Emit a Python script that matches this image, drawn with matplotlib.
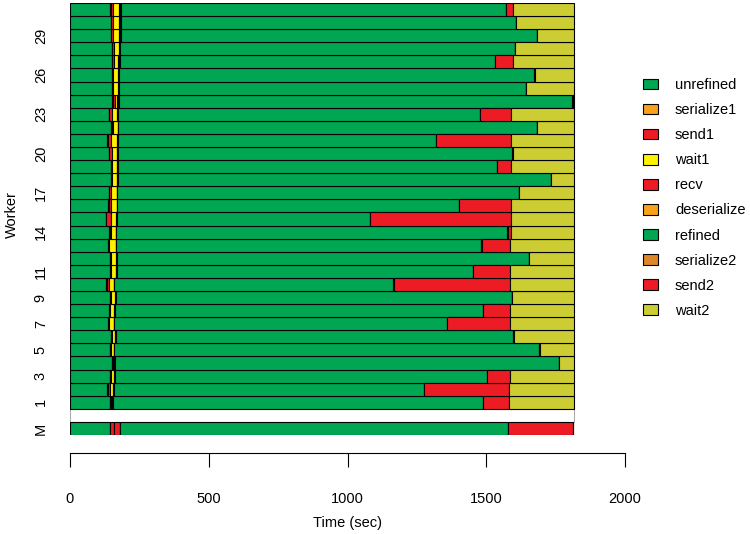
import matplotlib
matplotlib.use('Agg')
import matplotlib.pyplot as plt
from matplotlib.patches import Patch
import numpy as np

plt.rcParams['font.family'] = ['Liberation Sans', 'DejaVu Sans']

# phases of each worker, in stacking order
phases = ['unrefined', 'serialize1', 'send1', 'wait1', 'recv',
          'deserialize', 'refined', 'serialize2', 'send2', 'wait2']
colors = ['#00a651', '#f9a11b', '#ed1c24', '#fff200', '#ed1c24',
          '#f9a11b', '#00a651', '#de8628', '#ed1c24', '#cccc33']

workers = list(range(1, 32))

# durations (sec) for workers 1..31
unrefined = [144, 134, 144, 150, 144, 146, 138, 142, 144, 130, 144, 144, 138, 142, 128, 138,
             140, 146, 146, 140, 135, 148, 140, 152, 150, 150, 150, 150, 146, 146, 144]
serialize1 = [1, 2, 1, 2, 1, 2, 2, 1, 1, 2, 2, 1, 2, 2, 2, 2,
              2, 2, 2, 2, 2, 2, 2, 3, 2, 2, 2, 2, 2, 2, 2]
send1 = [2, 8, 2, 4, 2, 4, 2, 2, 2, 10, 2, 2, 2, 2, 17, 8,
         6, 4, 4, 8, 10, 6, 10, 6, 4, 4, 6, 6, 8, 8, 10]
wait1 = [6, 12, 12, 4, 10, 10, 16, 14, 14, 16, 16, 20, 22, 18, 20, 20,
         20, 16, 16, 20, 24, 16, 19, 9, 18, 18, 16, 18, 22, 22, 22]
recv = [2, 2, 2, 2, 2, 1, 1, 2, 3, 1, 3, 1, 1, 1, 1, 1,
        1, 3, 3, 1, 1, 1, 1, 3, 2, 2, 3, 3, 2, 2, 2]
deserialize = [1, 1, 1, 1, 1, 1, 1, 1, 1, 1, 2, 1, 1, 1, 1, 1,
               1, 2, 2, 1, 1, 1, 1, 2, 1, 2, 2, 2, 2, 2, 2]
refined = [1333, 1117, 1339, 1599, 1531, 1434, 1197, 1327, 1428, 1005, 1282, 1484, 1316, 1410, 912, 1231,
           1447, 1559, 1365, 1422, 1146, 1508, 1304, 1635, 1465, 1495, 1353, 1421, 1500, 1424, 1389]
serialize2 = [1] * 31
send2 = [92, 305, 85, 0, 0, 0, 229, 97, 0, 421, 135, 0, 104, 12, 508, 188,
         0, 0, 50, 0, 269, 0, 112, 0, 0, 0, 65, 0, 0, 0, 26]
wait2 = [235, 235, 230, 54, 125, 218, 230, 230, 223, 230, 230, 163, 230, 228, 227, 227,
         199, 84, 228, 222, 228, 134, 227, 6, 174, 143, 219, 214, 134, 210, 219]

# master
master = [144, 0, 14, 0, 22, 0, 1400, 0, 231, 0]

shown_labels = ['M', '1', '3', '5', '7', '9', '11', '14', '17', '20', '23', '26', '29']

rows = ['M', ''] + [str(w) for w in workers]
ypos = np.arange(len(rows))

worker_data = np.array([unrefined, serialize1, send1, wait1, recv, deserialize,
                        refined, serialize2, send2, wait2], dtype=float)

fig = plt.figure(figsize=(7.5, 5.34), dpi=100)
ax = fig.add_axes([70 / 750, 1 - 435 / 534, 555 / 750, 432 / 534])

# gap row between master and workers
total = worker_data.sum(axis=0).max()
ax.barh(1, total, height=1, color='white', edgecolor='#999999', linewidth=0.6)

wy = ypos[2:]
left_w = np.zeros(len(workers))
left_m = 0.0
for k, ph in enumerate(phases):
    ax.barh(wy, worker_data[k], left=left_w, height=1, color=colors[k],
            edgecolor='black', linewidth=0.8)
    ax.barh(0, master[k], left=left_m, height=1, color=colors[k],
            edgecolor='black', linewidth=0.8)
    left_w += worker_data[k]
    left_m += master[k]

ax.set_xlim(0, 2000)
ax.set_ylim(-0.5, len(rows) - 0.5)

for s in ['top', 'right', 'left']:
    ax.spines[s].set_visible(False)
ax.spines['bottom'].set_position(('outward', 13))
ax.spines['bottom'].set_bounds(0, 2000)
ax.spines['bottom'].set_linewidth(0.8)

ax.set_xticks([0, 500, 1000, 1500, 2000])
ax.tick_params(axis='x', length=10, width=0.8, pad=18, labelsize=10.5)
ax.set_yticks([rows.index(l) for l in shown_labels], shown_labels,
              rotation=90, va='center')
ax.tick_params(axis='y', length=0, pad=16, labelsize=10.5)

ax.set_xlabel('Time (sec)', fontsize=10.5, labelpad=7)
ax.set_ylabel('Worker', fontsize=10.5)
ax.yaxis.set_label_coords(-0.092, 0.51)

handles = [Patch(facecolor=c, edgecolor='black', linewidth=0.8) for c in colors]
fig.legend(handles, phases, loc='upper left', bbox_to_anchor=(643 / 750, 1 - 78 / 534),
           frameon=False, fontsize=10.5, handlelength=1.03, handleheight=0.75,
           handletextpad=1.16, labelspacing=0.76, borderaxespad=0, borderpad=0)

fig.savefig('out.png', dpi=100)
